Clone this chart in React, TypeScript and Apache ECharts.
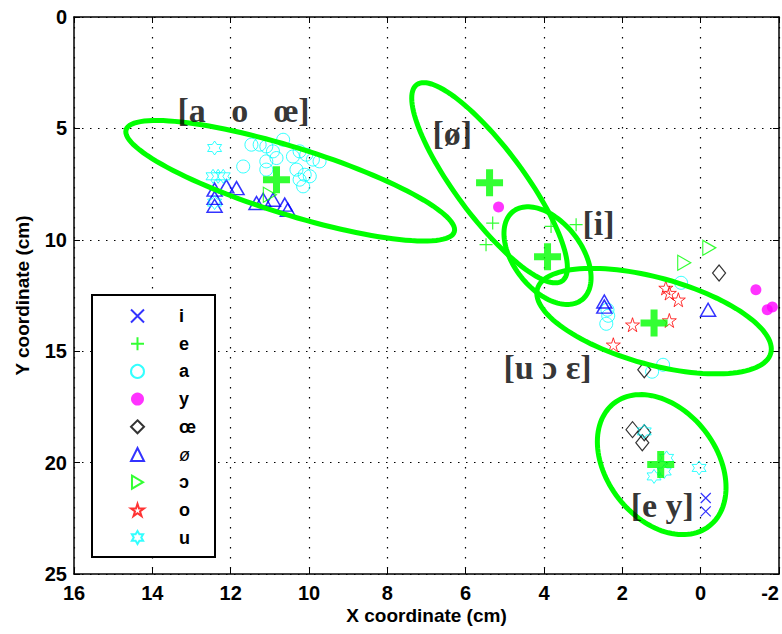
import React, { useEffect, useRef } from "react";
import * as echarts from "echarts";

// ---------- data (cm) ----------
const legendNames = ["i", "e", "a", "y", "œ", "ø", "ɔ", "o", "u"];

const iPoints = [[-0.13, 21.59], [-0.13, 22.19]];
const ePoints = [[5.31, 9.25], [5.48, 10.22], [3.82, 9.4], [3.18, 9.32]];
const aPoints = [
  [11.47, 5.73], [11.26, 5.73], [11.09, 5.81], [10.66, 5.51], [10.92, 6.03],
  [10.83, 6.33], [10.41, 6.26], [10.24, 6.03], [10.07, 6.18], [9.9, 6.4],
  [9.73, 6.48], [11.09, 6.48], [11.68, 6.71], [11.09, 6.85], [10.32, 6.85],
  [10.11, 7.08], [10.24, 7.3], [9.98, 7.15], [10.15, 7.6],
  [2.38, 13.14], [2.36, 13.41], [2.41, 13.77], [0.5, 11.93], [1.24, 15.92], [0.96, 15.61],
];
const yPoints = [[5.16, 8.53], [-1.41, 12.24], [-1.7, 13.14], [-1.83, 13.02]];
const oePoints = [[-0.47, 11.49], [1.44, 15.83], [1.74, 18.52], [1.44, 18.66], [1.49, 19.11]];
const oslashPoints = [
  [12.41, 7.75], [12.11, 7.6], [11.85, 7.68], [12.41, 8.12], [12.41, 8.47],
  [11.34, 8.35], [11.17, 8.2], [10.92, 8.2], [10.62, 8.42], [10.54, 8.65],
  [2.46, 12.77], [2.46, 13.0], [-0.19, 13.14],
];
const openOPoints = [[11.0, 7.98], [-0.22, 10.36], [0.42, 11.03]];
const oPoints = [[0.89, 12.16], [0.8, 12.39], [0.57, 12.69], [1.74, 13.81], [0.8, 13.62], [2.23, 14.71]];
const uPoints = [
  [12.41, 5.88], [12.45, 7.15], [12.32, 7.15], [12.19, 7.15], [12.41, 8.33],
  [1.44, 18.6], [1.19, 20.62], [0.93, 20.4], [0.87, 19.79], [0.04, 20.24],
];

// class means
const meanPoints = [[10.83, 7.3], [5.39, 7.44], [3.91, 10.76], [1.19, 13.73], [1.02, 20.09]];
// ellipses: centre x, centre y, conjugate semi-axis A (x,y), conjugate semi-axis B (x,y)
const ellipses = [
  [10.48, 7.35, -4.19, 2.29, 0.25, 1.44],
  [5.39, 7.44, -1.86, 4.4, -0.7, -0.91],
  [3.91, 10.71, -0.88, 1.98, -0.68, -0.94],
  [1.19, 13.65, -2.98, 1.44, -0.29, -1.88],
  [0.995, 20.09, -1.22, 2.75, -1.1, -1.52],
];
const classLabels = [
  { name: "[a   o   œ]", value: [11.67, 4.21] },
  { name: "[ø]", value: [6.34, 5.24] },
  { name: "[i]", value: [2.61, 9.28] },
  { name: "[u ɔ ɛ]", value: [3.91, 15.74] },
  { name: "[e y]", value: [0.98, 21.94] },
];

const xTickInterval = 2;
const yTickInterval = 5;

// ---------- symbols ----------
const SYM_X = "path://M0,0L10,10M0,10L10,0";
const SYM_PLUS = "path://M5,0L5,10M0,5L10,5";
const SYM_BIGPLUS = "path://M3.7,0H6.3V3.7H10V6.3H6.3V10H3.7V6.3H0V3.7H3.7Z";
const SYM_RTRI = "path://M0,0L17,10L0,20Z";
const SYM_STAR5 =
  "path://M10,0L12.245,6.91L19.511,6.91L13.633,11.18L15.878,18.09L10,13.82L4.122,18.09L6.367,11.18L0.489,6.91L7.755,6.91Z";
const SYM_HEX =
  "path://M10,0L12.887,5L18.66,5L15.774,10L18.66,15L12.887,15L10,20L7.113,15L1.34,15L4.226,10L1.34,5L7.113,5Z";

const SANS = "Liberation Sans, Arial, Helvetica, sans-serif";
const SERIF = "Liberation Serif, DejaVu Serif, Times New Roman, serif";

function openSeries(name: string, data: number[][], symbol: string, size: any, color: string, bw = 1) {
  return {
    type: "scatter",
    name,
    data,
    symbol,
    symbolSize: size,
    itemStyle: { color: "transparent", borderColor: color, borderWidth: bw },
    z: 2,
  };
}

export default function App() {
  const ref = useRef<HTMLDivElement>(null);
  useEffect(() => {
    const chart = echarts.init(ref.current!, null, { renderer: "svg" });
    const axisLineStyle = { color: "#000", width: 1.5 };
    const option: any = {
      animation: false,
      backgroundColor: "#fff",
      grid: { left: 74, top: 17, width: 706, height: 557, containLabel: false },
      xAxis: [
        {
          type: "value",
          min: -2,
          max: 16,
          interval: xTickInterval,
          inverse: true,
          position: "bottom",
          name: "X coordinate (cm)",
          nameLocation: "middle",
          nameGap: 32,
          nameMoveOverlap: false,
          nameTextStyle: { color: "#000", fontSize: 19, fontWeight: "bold", fontFamily: SANS, lineHeight: 18 },
          axisLine: { show: true, onZero: false, lineStyle: axisLineStyle },
          axisTick: { show: true, inside: true, length: 6, lineStyle: { color: "#000" } },
          axisLabel: {
            color: "#000",
            fontSize: 20,
            fontWeight: "bold",
            fontFamily: SANS,
            margin: 11,
            lineHeight: 16,
            alignMinLabel: "right",
          },
          splitLine: { show: true, lineStyle: { color: "#000", type: [1.5, 8.5], width: 1.2 } },
        },
        {
          type: "value",
          min: -2,
          max: 16,
          interval: xTickInterval,
          inverse: true,
          position: "top",
          axisLine: { show: true, onZero: false, lineStyle: axisLineStyle },
          axisTick: { show: true, inside: true, length: 6, lineStyle: { color: "#000" } },
          axisLabel: { show: false },
          splitLine: { show: false },
        },
      ],
      yAxis: [
        {
          type: "value",
          min: 0,
          max: 25,
          interval: yTickInterval,
          inverse: true,
          position: "left",
          name: "Y coordinate (cm)",
          nameLocation: "middle",
          nameGap: 42,
          nameMoveOverlap: false,
          nameTextStyle: { color: "#000", fontSize: 19, fontWeight: "bold", fontFamily: SANS },
          axisLine: { show: true, onZero: false, lineStyle: axisLineStyle },
          axisTick: { show: true, inside: true, length: 6, lineStyle: { color: "#000" } },
          axisLabel: { color: "#000", fontSize: 20, fontWeight: "bold", fontFamily: SANS, margin: 7 },
          splitLine: { show: true, lineStyle: { color: "#000", type: [1.5, 6.5], width: 1.2 } },
        },
        {
          type: "value",
          min: 0,
          max: 25,
          interval: yTickInterval,
          inverse: true,
          position: "right",
          axisLine: { show: true, onZero: false, lineStyle: axisLineStyle },
          axisTick: { show: true, inside: true, length: 6, lineStyle: { color: "#000" } },
          axisLabel: { show: false },
          splitLine: { show: false },
        },
      ],
      legend: {
        orient: "vertical",
        left: 92,
        top: 295,
        selectedMode: false,
        itemWidth: 13,
        itemHeight: 13,
        itemGap: 9.7,
        padding: [12, 10, 8, 38],
        data: legendNames,
        formatter: (name: string) => (name === "ø" ? "{thin|ø}" : name),
        textStyle: {
          color: "#000",
          fontSize: 18,
          fontWeight: "bold",
          fontFamily: SANS,
          padding: [0, 0, 0, 30],
          rich: {
            thin: { color: "#000", fontSize: 18, fontWeight: "normal", fontStyle: "italic", fontFamily: SANS },
          },
        },
        z: 5,
      },
      graphic: [
        {
          type: "rect",
          shape: { x: 92, y: 295, width: 123, height: 262 },
          style: { fill: "#fff", stroke: "#000", lineWidth: 2 },
          z: 4,
          silent: true,
        },
      ],
      series: [
        openSeries("i", iPoints, SYM_X, 10, "#0000ff", 1.2),
        openSeries("e", ePoints, SYM_PLUS, 13, "#00ff00", 1.2),
        openSeries("a", aPoints, "circle", 13, "#00ffff", 1),
        {
          type: "scatter",
          name: "y",
          data: yPoints,
          symbol: "circle",
          symbolSize: 11,
          itemStyle: { color: "#ff00ff" },
          z: 2,
        },
        openSeries("œ", oePoints, "diamond", [13, 16], "#000000", 1.2),
        openSeries("ø", oslashPoints, "triangle", [15, 13], "#0000ff", 1.5),
        openSeries("ɔ", openOPoints, SYM_RTRI, [13, 15], "#00ff00", 1.2),
        openSeries("o", oPoints, SYM_STAR5, 14, "#ff0000", 1),
        openSeries("u", uPoints, SYM_HEX, 14, "#00ffff", 1),
        {
          type: "custom",
          name: "ellipses",
          data: ellipses,
          dimensions: ["cx", "cy", "ax", "ay", "bx", "by"],
          encode: { x: 0, y: 1 },
          silent: true,
          z: 3,
          renderItem: (_params: any, api: any) => {
            const cx = api.value(0), cy = api.value(1);
            const ax = api.value(2), ay = api.value(3);
            const bx = api.value(4), by = api.value(5);
            const pts: number[][] = [];
            const n = 120;
            for (let k = 0; k <= n; k++) {
              const t = (k / n) * Math.PI * 2;
              pts.push(api.coord([cx + Math.cos(t) * ax + Math.sin(t) * bx, cy + Math.cos(t) * ay + Math.sin(t) * by]));
            }
            return {
              type: "polygon",
              shape: { points: pts },
              style: { fill: "none", stroke: "#00ff00", lineWidth: 5 },
            };
          },
        },
        {
          type: "scatter",
          name: "means",
          data: meanPoints,
          symbol: SYM_BIGPLUS,
          symbolSize: 27,
          itemStyle: { color: "#00ff00" },
          z: 4,
        },
        {
          type: "scatter",
          name: "classLabels",
          data: classLabels,
          symbolSize: 1,
          itemStyle: { color: "transparent" },
          z: 5,
          label: {
            show: true,
            position: "inside",
            formatter: "{b}",
            color: "#000",
            fontSize: 34,
            fontWeight: "bold",
            fontFamily: SERIF,
          },
        },
      ],
    };
    chart.setOption(option);
    return () => chart.dispose();
  }, []);
  return (
    <div
      ref={ref}
      style={{ position: "absolute", left: 0, top: 0, width: 782, height: 634, background: "#fff" }}
    />
  );
}
